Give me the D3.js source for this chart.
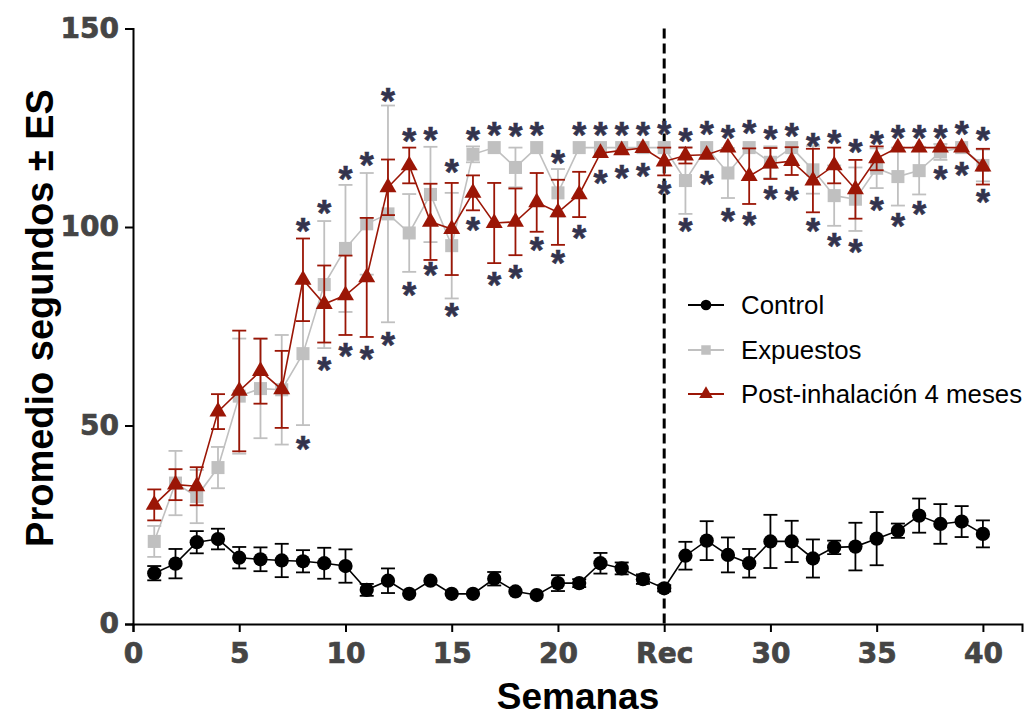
<!DOCTYPE html>
<html>
<head>
<meta charset="utf-8">
<script src="https://cdn.jsdelivr.net/npm/d3@7"></script>
<style>
  html, body { margin: 0; padding: 0; background: #fff; }
  svg { display: block; }
</style>
</head>
<body>
<svg id="chart" width="1027" height="719"></svg>
<script>
// ---------------- DATA ----------------
const weeks = d3.range(1, 41);
const xTickValues = [0, 5, 10, 15, 20, 25, 30, 35, 40];
const xTickLabels = ["0", "5", "10", "15", "20", "Rec", "30", "35", "40"];
const yTickValues = [0, 50, 100, 150];
const recWeek = 25;

const seriesNames = ["Control", "Expuestos", "Post-inhalación 4 meses"];

const control = [12.8,15.2,20.6,21.4,16.7,16.3,16.0,15.8,15.3,14.6,8.6,10.9,7.6,10.9,7.6,7.6,11.4,8.2,7.3,10.3,
                 10.3,15.3,14.0,11.3,9.0,17.2,21.0,17.4,15.3,20.8,20.8,16.5,19.3,19.5,21.5,23.5,27.3,25.2,25.8,22.7];
const controlErr = [1.8,3.7,2.8,2.6,2.7,3.0,4.2,2.8,3.9,4.2,1.5,3.1,0,0,0,0,1.7,0,0,2.0,
                    1.0,2.6,1.5,1.2,0.8,3.5,4.9,4.4,3.6,6.7,5.2,4.8,1.7,6.0,6.7,1.8,4.3,5.0,3.9,3.4];

const expuestos = [20.8,35.5,32.1,39.4,57.4,59.3,59.0,68.1,85.5,94.6,100.8,103.3,98.5,108.2,95.3,118.3,120,115,120,108.6,
                   120,120,120,120,120,111.7,120,113.6,120,116.3,120,114.4,107.9,107,114.8,112.7,114.2,118.9,120,115.5];
const expuestosErr = [3.9,8.1,6.7,5.2,14.5,12.5,13.8,18,16,16,12.8,27.3,9.8,12,13.3,2,0,5,0,6,
                      0,0,0,0,0,8.4,0,6.3,0,4,0,6,7.6,8,5,7.3,6,2,0,4];

const post = [30,35.1,34.7,53.5,58.7,63.7,59.1,86.7,80.6,82.8,87.3,110,115.5,101.3,99.5,108.6,101,101.3,106.2,103.7,
              108.2,118.6,119.3,119.9,116.5,118,118.2,120,112.8,116,116.6,111.7,115.5,109.5,117.3,120,120,120,120,115.2];
const postErr = [3.9,3.9,4.8,4.4,15.2,8.2,9.7,10.4,9.7,10,15,7,4.5,9.6,11.6,4.4,10.1,8.4,7.4,8.2,
                 5.7,0,0,0,3.5,2,0,0,7,3.9,3.5,8,4.5,7.4,3,0,0,0,0,4.5];

// significance asterisks: [week, value at asterisk centre]
const starsAbove = [[8,100.8],[9,105.3],[10,114],[11,117.4],[12,133.6],[13,123.5],[14,123.7],[15,115.7],[16,123.7],
  [17,124.9],[18,124.6],[19,125],[20,118],[21,125],[22,125],[23,125],[24,125],[25,125.2],[26,123.5],[27,125.2],
  [28,124.3],[29,125.6],[30,124],[31,124.7],[32,122.2],[33,122.9],[34,120.7],[35,122.6],[36,124.3],[37,124.3],
  [38,124.3],[39,125.2],[40,123.7]];
const starsBelow = [[8,46],[9,65.8],[10,69.2],[11,68.5],[12,72.2],[13,84.8],[14,89.6],[15,79.3],[16,101],[17,87.1],
  [18,89],[19,96],[20,92.8],[21,99.1],[22,112.8],[23,114.2],[24,114.6],[25,110],[26,100.8],[27,112.7],[28,103.3],
  [29,102.2],[30,108.8],[31,108.6],[32,100.8],[33,97],[34,95.5],[35,106.2],[36,102],[37,105.2],[38,114],[39,114.8],[40,108.2]];

// ---------------- CHART ----------------
const svg = d3.select("#chart");
const x = d3.scaleLinear().domain([0, 41.84]).range([133, 1022]);
const y = d3.scaleLinear().domain([0, 150]).range([624, 28.5]);

const colors = { control: "#000000", exp: "#c0c0c0", post: "#9b1606" };
const starColor = "#33334d";
const tickFont = "'DejaVu Sans', sans-serif";
const tickColor = "#454545";

// axes
const xAxis = d3.axisBottom(x).tickValues(xTickValues)
  .tickFormat((d, i) => xTickLabels[i]).tickSizeOuter(0).tickSize(8).tickPadding(4);
const gx = svg.append("g").attr("transform", `translate(0,${y(0)})`).call(xAxis);
gx.select(".domain").attr("stroke", "#000").attr("stroke-width", 2);
gx.selectAll(".tick line").attr("stroke", "#000").attr("stroke-width", 2);
gx.selectAll(".tick text").attr("font-family", tickFont).attr("font-weight", "bold")
  .attr("font-size", 28).attr("fill", tickColor).attr("stroke", tickColor).attr("stroke-width", 0.7)
  .attr("dy", "0.95em");

const yAxis = d3.axisLeft(y).tickValues(yTickValues).tickSizeOuter(0).tickSize(8).tickPadding(6);
const gy = svg.append("g").attr("transform", `translate(${x(0)},0)`).call(yAxis);
gy.select(".domain").attr("stroke", "#000").attr("stroke-width", 2);
gy.selectAll(".tick line").attr("stroke", "#000").attr("stroke-width", 2);
gy.selectAll(".tick text").attr("font-family", tickFont).attr("font-weight", "bold")
  .attr("font-size", 28).attr("fill", tickColor).attr("stroke", tickColor).attr("stroke-width", 0.7);

// axis titles
svg.append("text").attr("x", 578).attr("y", 709).attr("text-anchor", "middle")
  .attr("font-family", "'Liberation Sans', Arial, sans-serif").attr("font-weight", "bold")
  .attr("font-size", 37).attr("fill", "#000").text("Semanas");
svg.append("text").attr("transform", "translate(53,318) rotate(-90)").attr("text-anchor", "middle")
  .attr("font-family", "'Liberation Sans', Arial, sans-serif").attr("font-weight", "bold")
  .attr("font-size", 38).attr("fill", "#000").text("Promedio segundos ± ES");

// Rec dashed line
svg.append("line").attr("x1", x(recWeek)).attr("x2", x(recWeek)).attr("y1", y(150)).attr("y2", y(0))
  .attr("stroke", "#000").attr("stroke-width", 3).attr("stroke-dasharray", "10,5");

function drawSeries(vals, errs, color, marker, lw) {
  const data = weeks.map((w, i) => ({ w, v: vals[i], e: errs[i] }));
  const g = svg.append("g");
  // error bars
  const eb = g.selectAll(".eb").data(data.filter(d => d.e > 0)).join("g");
  eb.append("line").attr("x1", d => x(d.w)).attr("x2", d => x(d.w))
    .attr("y1", d => y(d.v - d.e)).attr("y2", d => y(d.v + d.e))
    .attr("stroke", color).attr("stroke-width", lw);
  [1, -1].forEach(s => {
    eb.append("line").attr("x1", d => x(d.w) - 7).attr("x2", d => x(d.w) + 7)
      .attr("y1", d => y(d.v + s * d.e)).attr("y2", d => y(d.v + s * d.e))
      .attr("stroke", color).attr("stroke-width", lw);
  });
  // line
  g.append("path").datum(data).attr("fill", "none").attr("stroke", color).attr("stroke-width", 1.6)
    .attr("d", d3.line().x(d => x(d.w)).y(d => y(d.v)));
  // markers
  const sym = d3.symbol().type(marker.type).size(marker.size);
  g.selectAll(".m").data(data).join("path")
    .attr("transform", d => `translate(${x(d.w)},${y(d.v) + (marker.dy || 0)})`)
    .attr("d", sym).attr("fill", color);
}

drawSeries(expuestos, expuestosErr, colors.exp, { type: d3.symbolSquare, size: 170 }, 1.8);
drawSeries(control, controlErr, colors.control, { type: d3.symbolCircle, size: 160 }, 1.8);
drawSeries(post, postErr, colors.post, { type: d3.symbolTriangle, size: 125, dy: 0 }, 1.8);

// asterisks
const starFs = 36;
svg.append("g").selectAll("text").data(starsAbove.concat(starsBelow)).join("text")
  .attr("x", d => x(d[0])).attr("y", d => y(d[1]) + starFs * 0.56)
  .attr("text-anchor", "middle").attr("font-family", "'Liberation Sans', Arial, sans-serif")
  .attr("font-weight", "bold").attr("font-size", starFs).attr("fill", starColor)
  .attr("stroke", starColor).attr("stroke-width", 0.6).text("*");

// legend
const legend = svg.append("g");
const legendItems = [
  { name: seriesNames[0], color: colors.control, type: d3.symbolCircle, size: 90, yy: 305 },
  { name: seriesNames[1], color: colors.exp, type: d3.symbolSquare, size: 90, yy: 350 },
  { name: seriesNames[2], color: colors.post, type: d3.symbolTriangle, size: 80, yy: 394 }
];
legendItems.forEach(it => {
  legend.append("line").attr("x1", 688).attr("x2", 724).attr("y1", it.yy).attr("y2", it.yy)
    .attr("stroke", it.color).attr("stroke-width", 1.8);
  legend.append("path").attr("transform", `translate(706,${it.yy})`)
    .attr("d", d3.symbol().type(it.type).size(it.size)).attr("fill", it.color);
  legend.append("text").attr("x", 741).attr("y", it.yy + 9)
    .attr("font-family", "'Liberation Sans', Arial, sans-serif").attr("font-size", 25.8)
    .attr("fill", "#000").text(it.name);
});
</script>
</body>
</html>
